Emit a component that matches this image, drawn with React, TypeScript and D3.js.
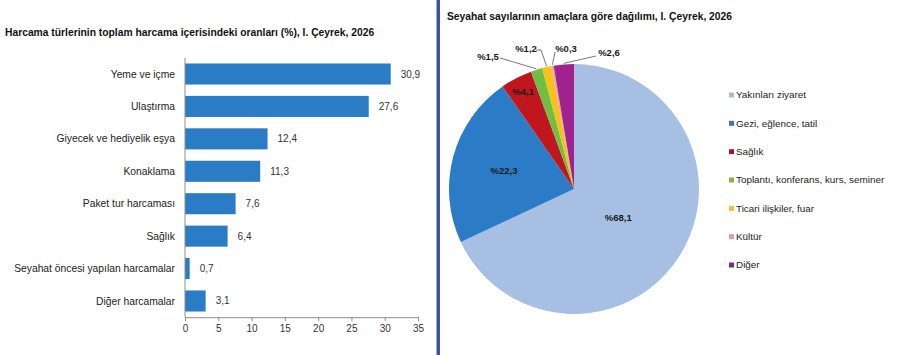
import React, { useRef, useEffect } from 'react';
import * as d3 from 'd3';

// left panel: spending shares by type
const spendCategories = [
  'Yeme ve içme',
  'Ulaştırma',
  'Giyecek ve hediyelik eşya',
  'Konaklama',
  'Paket tur harcaması',
  'Sağlık',
  'Seyahat öncesi yapılan harcamalar',
  'Diğer harcamalar',
];
const spendValues = [30.9, 27.6, 12.4, 11.3, 7.6, 6.4, 0.7, 3.1];
const spendTicks = [0, 5, 10, 15, 20, 25, 30, 35];

// right panel: trips by purpose
const purposeNames = [
  'Yakınları ziyaret',
  'Gezi, eğlence, tatil',
  'Sağlık',
  'Toplantı, konferans, kurs, seminer',
  'Ticari ilişkiler, fuar',
  'Kültür',
  'Diğer',
];
const purposeValues = [68.1, 22.3, 4.1, 1.5, 1.2, 0.3, 2.6];
const purposeColors = ['#a6bfe3', '#2b7bc6', '#c0161d', '#70be43', '#f8c11a', '#f0a3a3', '#a0228f'];
const legendColors = ['#a9bad2', '#3a77b4', '#9e1b2a', '#8bb14b', '#f0c232', '#dfa2a2', '#7b2b7b'];

const fmt = (v: number) => String(v).replace('.', ',');

function App() {
  const ref = useRef<SVGSVGElement>(null);

  useEffect(() => {
    const svg = d3.select(ref.current);
    svg.selectAll('*').remove();
    const font = '"Liberation Sans", Arial, sans-serif';
    svg.style('font-family', font);

    // ---------- bar chart ----------
    svg.append('text')
      .attr('x', 5).attr('y', 36)
      .attr('font-size', 10.3).attr('font-weight', 'bold').attr('fill', '#111')
      .text('Harcama türlerinin toplam harcama içerisindeki oranları (%), I. Çeyrek, 2026');

    const x = d3.scaleLinear().domain([0, 35]).range([185, 418]);
    const y = d3.scaleBand()
      .domain(spendCategories)
      .range([57.8, 317.2])
      .paddingInner(0.35)
      .paddingOuter(0.175);

    const bars = svg.append('g');
    bars.selectAll('rect')
      .data(spendValues)
      .enter()
      .append('rect')
      .attr('x', x(0))
      .attr('y', (d, i) => y(spendCategories[i]))
      .attr('width', d => x(d) - x(0))
      .attr('height', y.bandwidth())
      .attr('fill', '#2a7cc5');

    bars.selectAll('text.val')
      .data(spendValues)
      .enter()
      .append('text')
      .attr('class', 'val')
      .attr('x', d => x(d) + 10)
      .attr('y', (d, i) => y(spendCategories[i]) + y.bandwidth() / 2)
      .attr('dy', '0.35em')
      .attr('font-size', 10)
      .attr('fill', '#333')
      .text(d => fmt(d));

    bars.selectAll('text.cat')
      .data(spendCategories)
      .enter()
      .append('text')
      .attr('class', 'cat')
      .attr('x', 175)
      .attr('y', d => y(d) + y.bandwidth() / 2)
      .attr('dy', '0.35em')
      .attr('text-anchor', 'end')
      .attr('font-size', 10.3)
      .attr('fill', '#222')
      .text(d => d);

    // category axis line
    svg.append('line')
      .attr('x1', x(0)).attr('x2', x(0))
      .attr('y1', 57.8).attr('y2', 317.2)
      .attr('stroke', '#8c8c8c');

    const xAxis = svg.append('g')
      .attr('transform', 'translate(0,317.2)')
      .call(d3.axisBottom(x).tickValues(spendTicks).tickSize(4).tickPadding(4));
    xAxis.select('.domain').attr('stroke', '#8c8c8c');
    xAxis.selectAll('line').attr('stroke', '#8c8c8c');
    xAxis.selectAll('text')
      .attr('font-family', font)
      .attr('font-size', 10)
      .attr('fill', '#333');

    // divider between the two panels
    svg.append('rect')
      .attr('x', 436.5).attr('y', 0)
      .attr('width', 3.5).attr('height', 355)
      .attr('fill', '#3b53a3');

    // ---------- pie chart ----------
    svg.append('text')
      .attr('x', 447).attr('y', 20)
      .attr('font-size', 10.3).attr('font-weight', 'bold').attr('fill', '#111')
      .text('Seyahat sayılarının amaçlara göre dağılımı, I. Çeyrek, 2026');

    const cx = 574, cy = 189, r = 125;
    const pie = d3.pie<number>().sort(null).value(d => d);
    const arcs = pie(purposeValues);
    const arc = d3.arc<d3.PieArcDatum<number>>().innerRadius(0).outerRadius(r);

    const g = svg.append('g').attr('transform', `translate(${cx},${cy})`);
    g.selectAll('path')
      .data(arcs)
      .enter()
      .append('path')
      .attr('d', arc)
      .attr('fill', (d, i) => purposeColors[i]);

    const mid = (a: d3.PieArcDatum<number>) => (a.startAngle + a.endAngle) / 2;
    const polar = (a: number, rad: number): [number, number] => [Math.sin(a) * rad, -Math.cos(a) * rad];

    // labels inside the big slices (fraction of radius)
    const insideLabels = [{ i: 0, k: 0.42 }, { i: 1, k: 0.58 }, { i: 2, k: 0.88 }];
    insideLabels.forEach(({ i, k }) => {
      const [px, py] = polar(mid(arcs[i]), r * k);
      g.append('text')
        .attr('x', px).attr('y', py)
        .attr('dy', '0.35em')
        .attr('text-anchor', 'middle')
        .attr('font-size', 9.5).attr('font-weight', 'bold').attr('fill', '#1a1a1a')
        .text('%' + fmt(purposeValues[i]));
    });

    // small slices get outside labels with leader lines
    const outsideLabels = [
      { i: 3, lx: -86, ly: -132, path: [[-74, -131]] },
      { i: 4, lx: -48, ly: -140, path: [[-38, -139], [-33, -139]] },
      { i: 5, lx: -8, ly: -140, path: [[-19, -137]] },
      { i: 6, lx: 35, ly: -136, path: [[22, -133]] },
    ];
    outsideLabels.forEach(({ i, lx, ly, path }) => {
      const edge = polar(mid(arcs[i]), r + 1);
      const pts = [...path, edge] as [number, number][];
      g.append('path')
        .attr('d', d3.line()(pts))
        .attr('fill', 'none')
        .attr('stroke', '#555')
        .attr('stroke-width', 0.8);
      g.append('text')
        .attr('x', lx).attr('y', ly)
        .attr('dy', '0.35em')
        .attr('text-anchor', 'middle')
        .attr('font-size', 9.5).attr('font-weight', 'bold').attr('fill', '#1a1a1a')
        .text('%' + fmt(purposeValues[i]));
    });

    // legend
    const ly = d3.scalePoint().domain(purposeNames).range([95, 265]);
    const legend = svg.append('g');
    legend.selectAll('rect')
      .data(purposeNames)
      .enter()
      .append('rect')
      .attr('x', 729).attr('y', d => ly(d) - 2.5)
      .attr('width', 5).attr('height', 5)
      .attr('fill', (d, i) => legendColors[i]);
    legend.selectAll('text')
      .data(purposeNames)
      .enter()
      .append('text')
      .attr('x', 736).attr('y', d => ly(d))
      .attr('dy', '0.35em')
      .attr('font-size', 9.9).attr('fill', '#222')
      .text(d => d);
  }, []);

  return (
    <svg ref={ref} width={900} height={355}
      style={{ position: 'absolute', left: 0, top: 0, background: '#fff' }}>
    </svg>
  );
}

export default App;
